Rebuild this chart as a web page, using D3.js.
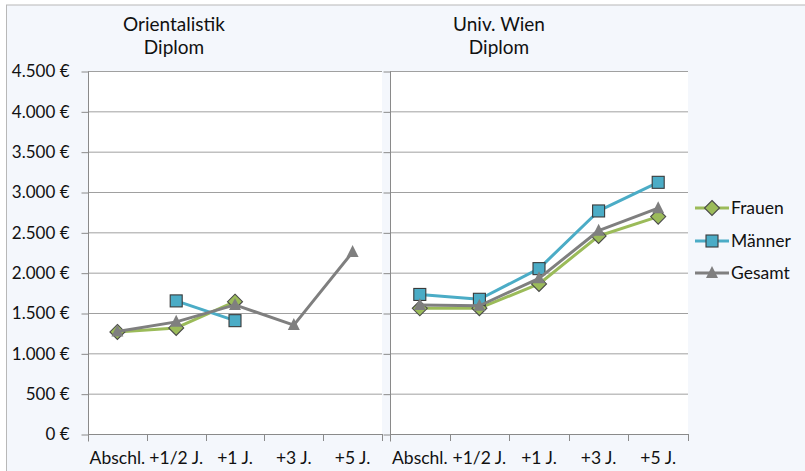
<!DOCTYPE html>
<html lang="de">
<head>
<meta charset="utf-8">
<title>Einkommen Orientalistik / Univ. Wien</title>
<style>
  body { margin: 0; background: #fff; }
  svg text { font-family: Lato, "Open Sans", sans-serif; fill: #111; }
</style>
</head>
<body>
<script src="https://cdn.jsdelivr.net/npm/d3@7"></script>
<script>
// categories and values
var categories = ["Abschl.", "+1/2 J.", "+1 J.", "+3 J.", "+5 J."];
var yTicks = [0, 500, 1000, 1500, 2000, 2500, 3000, 3500, 4000, 4500];

var orientFrauen  = [1265, 1315, 1640, null, null];
var orientMaenner = [null, 1650, 1405, null, null];
var orientGesamt  = [1270, 1390, 1600, 1350, 2255];

var wienFrauen  = [1558, 1560, 1860, 2455, 2695];
var wienMaenner = [1730, 1670, 2050, 2765, 3120];
var wienGesamt  = [1600, 1590, 1930, 2520, 2800];

var seriesNames = ["Frauen", "Männer", "Gesamt"];

var width = 805, height = 471;
var colors = { "Frauen": "#9bbb59", "Männer": "#4bacc6", "Gesamt": "#7f7f7f" };

var de = d3.formatLocale({ decimal: ",", thousands: ".", grouping: [3], currency: ["", " €"] });
var fmt = function(v) { return de.format(",")(v) + " €"; };

var svg = d3.select("body").append("svg")
    .attr("width", width)
    .attr("height", height);

// chart background
svg.append("rect")
    .attr("x", 6.5).attr("y", 5)
    .attr("width", width - 6).attr("height", height - 4)
    .attr("fill", "#f4f7fc")
    .attr("stroke", "#b8b8b8");

var y = d3.scaleLinear().domain([0, 4500]).range([434, 71]);

var panels = [
  { title: ["Orientalistik", "Diplom"], x0: 88, x1: 382, titleX: 174, labels: true,
    data: [orientFrauen, orientMaenner, orientGesamt] },
  { title: ["Univ. Wien", "Diplom"], x0: 390, x1: 688, titleX: 499, labels: false,
    data: [wienFrauen, wienMaenner, wienGesamt] }
];

function marker(g, name, cx, cy) {
  if (name === "Frauen") {
    g.append("path")
      .attr("d", "M" + cx + "," + (cy - 7.5) + "L" + (cx + 7.5) + "," + cy + "L" + cx + "," + (cy + 7.5) + "L" + (cx - 7.5) + "," + cy + "Z")
      .attr("fill", colors[name]).attr("stroke", "#4a4a4a").attr("stroke-width", 1.1);
  } else if (name === "Männer") {
    g.append("rect")
      .attr("x", cx - 6).attr("y", cy - 6).attr("width", 12).attr("height", 12)
      .attr("fill", colors[name]).attr("stroke", "#3a3a3a").attr("stroke-width", 1.1);
  } else {
    g.append("path")
      .attr("d", "M" + cx + "," + (cy - 7) + "L" + (cx + 6) + "," + (cy + 5) + "L" + (cx - 6) + "," + (cy + 5) + "Z")
      .attr("fill", colors[name]);
  }
}

panels.forEach(function(p) {
  var x = d3.scaleBand().domain(categories).range([p.x0, p.x1]);
  var g = svg.append("g");

  g.append("rect")
    .attr("x", p.x0).attr("y", y(4500))
    .attr("width", p.x1 - p.x0).attr("height", y(0) - y(4500))
    .attr("fill", "#fff");

  // gridlines
  g.selectAll("line.grid").data(yTicks.filter(function(d) { return d > 0; }))
    .join("line")
    .attr("x1", p.x0).attr("x2", p.x1)
    .attr("y1", function(d) { return y(d) + 0.5; })
    .attr("y2", function(d) { return y(d) + 0.5; })
    .attr("stroke", "#a0a0a0").attr("stroke-width", 1);

  var yAxis = d3.axisLeft(y).tickValues(yTicks).tickSize(7).tickPadding(12)
    .tickFormat(p.labels ? fmt : "");
  g.append("g")
    .attr("transform", "translate(" + (p.x0 + 0.5) + ",0.5)")
    .call(yAxis)
    .call(function(a) {
      a.attr("font-family", null).attr("font-size", null);
      a.select(".domain").attr("stroke", "#8a8a8a").attr("d", "M0," + y(4500) + "V" + (y(0) + 7));
      a.selectAll(".tick line").attr("stroke", "#8a8a8a");
      a.selectAll("text").style("font-size", "17px").attr("fill", "#111");
    });

  // bottom axis
  var xAxis = d3.axisBottom(x).tickSize(0).tickPadding(17);
  g.append("g")
    .attr("transform", "translate(0," + (y(0) + 0.5) + ")")
    .call(xAxis)
    .call(function(a) {
      a.attr("font-family", null).attr("font-size", null);
      a.select(".domain").attr("stroke", "#8a8a8a").attr("d", "M" + p.x0 + ",0H" + p.x1);
      a.selectAll("text").style("font-size", "17.5px").attr("fill", "#111");
    });
  var bounds = categories.map(function(c) { return x(c); }).concat([p.x1]);
  g.selectAll("line.ctick").data(bounds).join("line")
    .attr("x1", function(d) { return Math.round(d) + 0.5; })
    .attr("x2", function(d) { return Math.round(d) + 0.5; })
    .attr("y1", y(0)).attr("y2", y(0) + 7)
    .attr("stroke", "#8a8a8a");

  // title
  var t = g.append("text")
    .attr("x", p.titleX).attr("y", 31)
    .attr("text-anchor", "middle")
    .style("font-size", "19px");
  t.append("tspan").attr("x", p.titleX).text(p.title[0]);
  t.append("tspan").attr("x", p.titleX).attr("dy", 23).text(p.title[1]);

  // series
  p.data.forEach(function(vals, si) {
    var name = seriesNames[si];
    var line = d3.line()
      .defined(function(d) { return d != null; })
      .x(function(d, i) { return x(categories[i]) + x.bandwidth() / 2; })
      .y(function(d) { return y(d); });
    g.append("path")
      .attr("d", line(vals))
      .attr("fill", "none")
      .attr("stroke", colors[name])
      .attr("stroke-width", 3)
      .attr("stroke-linejoin", "round");
    vals.forEach(function(v, i) {
      if (v == null) return;
      marker(g, name, x(categories[i]) + x.bandwidth() / 2, y(v));
    });
  });
});

// legend
var legendY = [208, 241, 273];
seriesNames.forEach(function(name, i) {
  var lg = svg.append("g");
  lg.append("line")
    .attr("x1", 695).attr("x2", 729)
    .attr("y1", legendY[i]).attr("y2", legendY[i])
    .attr("stroke", colors[name]).attr("stroke-width", 3);
  marker(lg, name, 712, legendY[i]);
  lg.append("text")
    .attr("x", 731).attr("y", legendY[i] + 6)
    .style("font-size", "17.5px")
    .text(name);
});
</script>
</body>
</html>
